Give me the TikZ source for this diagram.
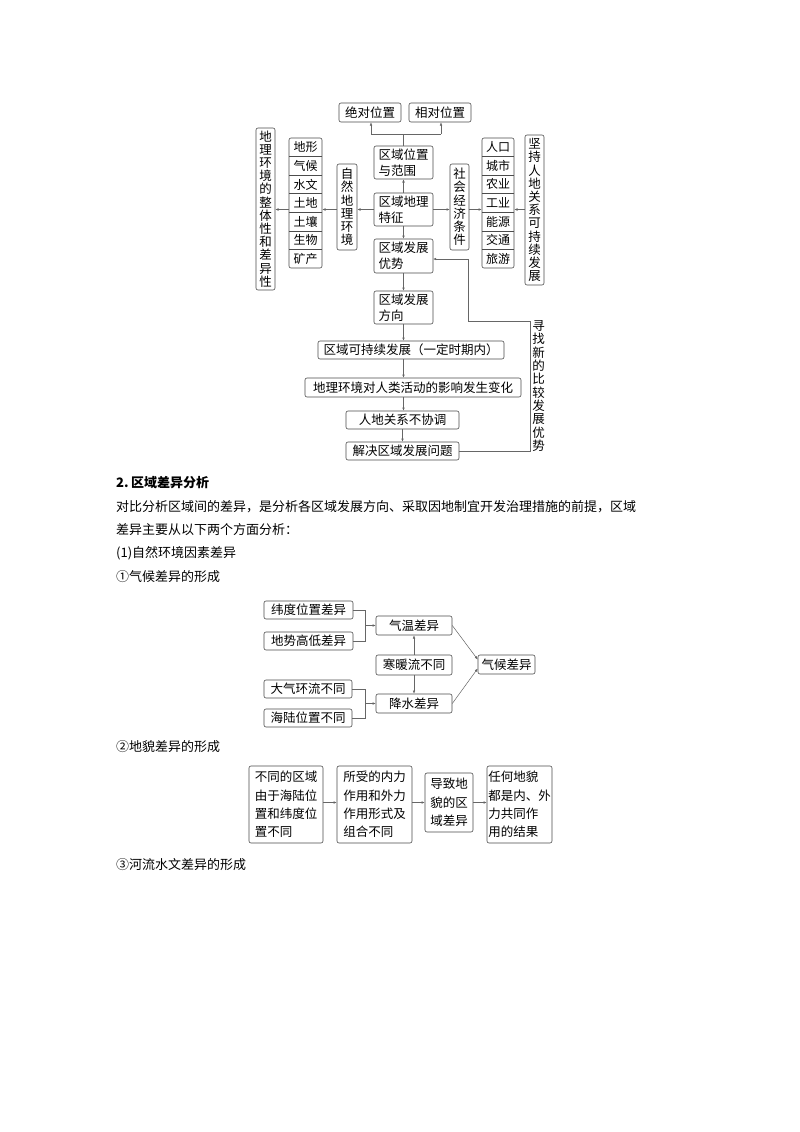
\documentclass[tikz,border=0pt]{standalone}
\usepackage{fontspec}
\setmainfont{Noto Sans CJK SC}
\usetikzlibrary{arrows.meta}
\begin{document}
\begin{tikzpicture}[x=1pt,y=-1pt,
  bx/.style={draw=black!70, line width=0.6pt, rounded corners=2pt, inner sep=0pt, align=left, font=\fontsize{12.5}{16.3}\selectfont},
  bxc/.style={bx, align=center},
  bxl/.style={bx, font=\fontsize{12.5}{18.3}\selectfont},
  vt/.style={bx, align=center, font=\fontsize{12.5}{13.2}\selectfont},
  vtx/.style={inner sep=0pt, align=center, font=\fontsize{12.5}{13.3}\selectfont},
  cell/.style={inner sep=0pt, font=\fontsize{12}{12}\selectfont},
  ln/.style={draw=black!60, line width=0.5pt},
  ar/.style={ln, -{Latex[length=3.2pt,width=2.6pt]}},
  txt/.style={anchor=west, inner sep=0pt, font=\fontsize{13}{13}\selectfont}]
\useasboundingbox[fill=white] (0,0) rectangle (800,1132);

% ---------- top diagram ----------
\node[bxc, minimum width=62pt, minimum height=19pt] (jd) at (370,112.5) {绝对位置};
\node[bxc, minimum width=62pt, minimum height=19pt] (xd) at (440,112.5) {相对位置};
\node[bx, minimum width=59pt, minimum height=33pt] (wz) at (403.5,162.5) {区域位置\\与范围};
\node[bx, minimum width=59pt, minimum height=33pt] (dl) at (403.5,209.5) {区域地理\\特征};
\node[bx, minimum width=59pt, minimum height=34pt] (ys) at (403.5,256) {区域发展\\优势};
\node[bx, minimum width=59pt, minimum height=33pt] (fx) at (403.5,307.5) {区域发展\\方向};
\node[bxc, minimum width=186pt, minimum height=18pt] (kcx) at (411,350) {区域可持续发展（一定时期内）};
\node[bxc, minimum width=216pt, minimum height=19pt] (bh) at (413,387.5) {地理环境对人类活动的影响发生变化};
\node[bxc, minimum width=113pt, minimum height=18pt] (bxt) at (402.5,420) {人地关系不协调};
\node[bxc, minimum width=113pt, minimum height=18pt] (jj) at (402.5,451) {解决区域发展问题};

\node[vt, minimum width=20pt, minimum height=86pt] (zr) at (347,207) {自\\然\\地\\理\\环\\境};
\node[vt, minimum width=19pt, minimum height=162pt] (zt) at (265.5,209) {地\\理\\环\\境\\的\\整\\体\\性\\和\\差\\异\\性};
\node[vt, minimum width=19pt, minimum height=86pt] (sh) at (459.5,207) {社\\会\\经\\济\\条\\件};
\node[vt, minimum width=19pt, minimum height=150pt] (jc) at (534.5,210) {坚\\持\\人\\地\\关\\系\\可\\持\\续\\发\\展};

% left column
\node[bx, minimum width=33pt, minimum height=130pt] (colL) at (305.5,203) {};
\foreach \t [count=\i] in {地形,气候,水文,土地,土壤,生物,矿产}
  \node[cell] (cl\i) at (305.5,{138+18.57*(\i-0.5)}) {\t};
\foreach \i in {1,...,6}
  \draw[draw=black!70, line width=0.5pt] (289,{138+18.57*\i}) -- (322,{138+18.57*\i});
% right column
\node[bx, minimum width=32pt, minimum height=130pt] (colR) at (498,203) {};
\foreach \t [count=\i] in {人口,城市,农业,工业,能源,交通,旅游}
  \node[cell] (cr\i) at (498,{138+18.57*(\i-0.5)}) {\t};
\foreach \i in {1,...,6}
  \draw[draw=black!70, line width=0.5pt] (482,{138+18.57*\i}) -- (514,{138+18.57*\i});

% connectors
\coordinate (jn) at (403.5,134);
\coordinate (jl) at (371,134);
\coordinate (jr) at (441,134);
\draw[ln] (wz.north) -- (jn);
\draw[ln] (jl) -- (jr);
\draw[ar] (jl) -- (jl |- jd.south);
\draw[ar] (jr) -- (jr |- xd.south);
\draw[ar] (dl.north) -- (wz.south);
\draw[ar] (dl.south) -- (ys.north);
\draw[ar] (ys.south) -- (fx.north);
\draw[ar] (fx.south) -- (fx.south |- kcx.north);
\draw[ar] (fx.south |- kcx.south) -- (fx.south |- bh.north);
\draw[ar] (fx.south |- bh.south) -- (fx.south |- bxt.north);
\draw[ar] (bxt.south) -- (jj.north);

\draw[ar] (dl.west) -- (zr.east |- dl.west);
\draw[ar] (zr.west |- dl.west) -- (colL.east |- dl.west);
\draw[ar] (colL.west |- dl.west) -- (zt.east |- dl.west);
\draw[ar] (dl.east) -- (sh.west |- dl.east);
\draw[ar] (sh.east |- dl.east) -- (colR.west |- dl.east);
\draw[ar] (jc.west |- dl.east) -- (colR.east |- dl.east);

\coordinate (f1) at (530,451);
\coordinate (f2) at (530,321);
\coordinate (f3) at (468,321);
\coordinate (f4) at (468,259);
\coordinate (f5) at (433,259);
\draw[ar] (jj.east) -- (f1) -- (f2) -- (f3) -- (f4) -- (f5);
\node[vtx] (xz) at (538.5,386) {寻\\找\\新\\的\\比\\较\\发\\展\\优\\势};

% ---------- text ----------
\node[txt, font=\fontsize{13}{13}\selectfont\bfseries] (h2) at (116,483) {2.\hspace{2.5pt}区域差异分析};
\node[txt] (p1) at (116,506.5) {对比分析区域间的差异，是分析各区域发展方向、采取因地制宜开发治理措施的前提，区域};
\node[txt] (p2) at (116,530) {差异主要从以下两个方面分析：};
\node[txt] (p3) at (116,553.5) {(1)自然环境因素差异};
\node[txt] (p4) at (116,577) {①气候差异的形成};

% ---------- climate diagram ----------
\node[bxc, minimum width=89pt, minimum height=18pt] (a1) at (308.5,610) {纬度位置差异};
\node[bxc, minimum width=89pt, minimum height=18pt] (a2) at (308.5,641) {地势高低差异};
\node[bxc, minimum width=88pt, minimum height=18pt] (b1) at (308,689) {大气环流不同};
\node[bxc, minimum width=88pt, minimum height=18pt] (b2) at (308,718) {海陆位置不同};
\node[bxc, minimum width=76pt, minimum height=19pt] (qw) at (414,625.5) {气温差异};
\node[bxc, minimum width=76pt, minimum height=20pt] (hn) at (414,665) {寒暖流不同};
\node[bxc, minimum width=76pt, minimum height=19pt] (js) at (414,703.5) {降水差异};
\node[bxc, minimum width=57pt, minimum height=19pt] (qh) at (506.5,664.5) {气候差异};
\coordinate (ja) at (365,625.5);
\coordinate (jb) at (365,703.5);
\draw[ln] (a1.east) -- (a1.east -| ja) -- (a2.east -| ja) -- (a2.east);
\draw[ar] (ja) -- (qw.west);
\draw[ln] (b1.east) -- (b1.east -| jb) -- (b2.east -| jb) -- (b2.east);
\draw[ar] (jb) -- (js.west);
\draw[ar] (hn.north) -- (qw.south);
\draw[ar] (hn.south) -- (js.north);
\draw[ar] (qw.east) -- ([yshift=5pt]qh.west);
\draw[ar] (js.east) -- ([yshift=-4pt]qh.west);

% ---------- landform diagram ----------
\node[txt] (p5) at (116,747) {②地貌差异的形成};
\node[bxl, minimum width=74pt, minimum height=77pt] (c1) at (286,804.5) {不同的区域\\由于海陆位\\置和纬度位\\置不同};
\node[bxl, minimum width=75pt, minimum height=77pt] (c2) at (374.5,804.5) {所受的内力\\作用和外力\\作用形式及\\组合不同};
\node[bxl, minimum width=48pt, minimum height=59pt] (c3) at (449,802.5) {导致地\\貌的区\\域差异};
\node[bxl, minimum width=65pt, minimum height=77pt] (c4) at (519.5,804.5) {任何地貌\\都是内、外\\力共同作\\用的结果};
\draw[ar] (c1.east |- c3.west) -- (c2.west |- c3.west);
\draw[ar] (c2.east |- c3.west) -- (c3.west);
\draw[ar] (c3.east) -- (c4.west |- c3.east);
\node[txt] (p6) at (116,865) {③河流水文差异的形成};
\end{tikzpicture}
\end{document}
